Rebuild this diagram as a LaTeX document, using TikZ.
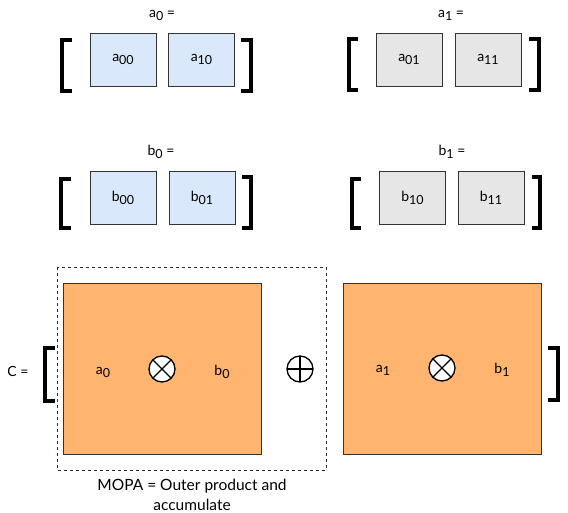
\documentclass[tikz,border=0pt]{standalone}
\usepackage{fontspec}
\setmainfont{Lato}
\newcommand{\mysub}[1]{\raisebox{-3pt}{\fontsize{12.5}{12.5}\selectfont #1}}
\begin{document}
\begin{tikzpicture}[x=1pt,y=-1pt,
  lbl/.style={font=\fontsize{14}{16}\selectfont, inner sep=0pt},
  bluebox/.style={draw=black!80, line width=0.9pt, fill=bluefill, minimum width=66pt, minimum height=53pt, lbl},
  graybox/.style={draw=black!80, line width=0.9pt, fill=grayfill, minimum width=66pt, minimum height=53pt, lbl},
  orangebox/.style={draw=black!80, line width=0.9pt, fill=orangefill},
  brk/.style={line width=4pt, line cap=butt, line join=miter},
  opcirc/.style={circle, draw=black, line width=1.3pt, fill=white, minimum size=26pt, inner sep=0pt},
  otimes/.style={opcirc, path picture={
      \draw[line width=1.3pt] (path picture bounding box.north west) -- (path picture bounding box.south east)
        (path picture bounding box.north east) -- (path picture bounding box.south west);}},
  oplus/.style={opcirc, path picture={
      \draw[line width=1.3pt] (path picture bounding box.north) -- (path picture bounding box.south)
        (path picture bounding box.east) -- (path picture bounding box.west);}}
]
\definecolor{bluefill}{HTML}{DAE8FC}
\definecolor{grayfill}{HTML}{E6E6E6}
\definecolor{orangefill}{HTML}{FFB570}
\useasboundingbox (0,0) rectangle (568,513);

% top-left: a0
\node[lbl] (la0) at (162,15) {a\mysub{0} =};
\node[bluebox] (a00) at (123,59.5) {a\mysub{00}};
\node[bluebox] (a10) at (201.5,59.5) {a\mysub{10}};
\draw[brk] (72,40) -- (62,40) -- (62,91) -- (72,91);
\draw[brk] (241,40) -- (251,40) -- (251,91) -- (241,91);

% top-right: a1
\node[lbl] (la1) at (451,15) {a\mysub{1} =};
\node[graybox] (a01) at (409,59.5) {a\mysub{01}};
\node[graybox] (a11) at (488,59.5) {a\mysub{11}};
\draw[brk] (358,39) -- (349,39) -- (349,90) -- (358,90);
\draw[brk] (529,39) -- (539,39) -- (539,90) -- (529,90);

% middle-left: b0
\node[lbl] (lb0) at (161,152) {b\mysub{0} =};
\node[bluebox] (b00) at (123,197.5) {b\mysub{00}};
\node[bluebox] (b01) at (202,197.5) {b\mysub{01}};
\draw[brk] (71,179) -- (61,179) -- (61,228) -- (71,228);
\draw[brk] (242,177) -- (251,177) -- (251,228) -- (242,228);

% middle-right: b1
\node[lbl] (lb1) at (452,152) {b\mysub{1} =};
\node[graybox] (b10) at (412.5,197.5) {b\mysub{10}};
\node[graybox] (b11) at (491,197.5) {b\mysub{11}};
\draw[brk] (361,179) -- (351.5,179) -- (351.5,228) -- (361,228);
\draw[brk] (532,177) -- (540,177) -- (540,228) -- (532,228);

% bottom
\node[lbl] (lc) at (18,371) {C =};
\draw[line width=0.9pt, dash pattern=on 3pt off 3pt, draw=black!85] (57,267) rectangle (326,470);
\node[orangebox, minimum width=198pt, minimum height=171pt] (c0) at (162,368.5) {};
\node[orangebox, minimum width=198pt, minimum height=171pt] (c1) at (442,368.5) {};
\draw[brk] (55,348) -- (45,348) -- (45,401) -- (55,401);
\draw[brk] (548,348) -- (558,348) -- (558,400) -- (548,400);

\node[lbl] (ca0) at (103,372) {a\mysub{0}};
\node[otimes] (ot0) at (162,369) {};
\node[lbl] (cb0) at (222,372) {b\mysub{0}};
\node[oplus] (op) at (300,369) {};
\node[lbl] (ca1) at (383,370) {a\mysub{1}};
\node[otimes] (ot1) at (442,368) {};
\node[lbl] (cb1) at (502,370) {b\mysub{1}};

\node[lbl, align=center, font=\fontsize{15.5}{20}\selectfont] (mopa) at (192,495) {MOPA = Outer product and\\accumulate};
\end{tikzpicture}
\end{document}
